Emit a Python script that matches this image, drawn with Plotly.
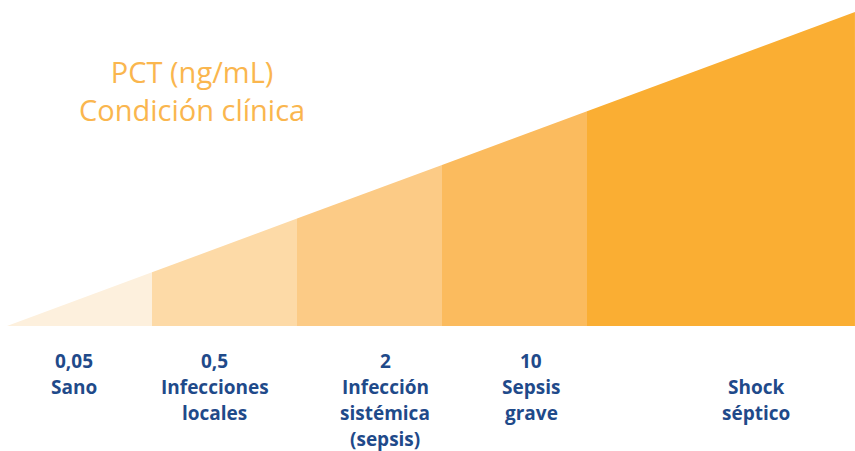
import plotly.graph_objects as go

# Data
pct_values = ["0,05", "0,5", "2", "10", ""]
conditions = [["Sano"], ["Infecciones", "locales"], ["Infección", "sistémica", "(sepsis)"],
              ["Sepsis", "grave"], ["Shock", "séptico"]]
segment_edges = [0, 1, 2, 3, 4, 5.848]          # x units of segment boundaries
segment_colors = ["#FDF0DD", "#FDDAA7", "#FCCB86", "#FBBB5E", "#FAAE33"]
label_x = [0.462, 1.434, 2.607, 3.614, 5.166]     # label centers in x units
title_lines = ["PCT (ng/mL)", "Condición clínica"]

X_MAX = segment_edges[-1]
def height(x):
    return x / X_MAX  # wedge height (1 at right edge)

PX_PER_Y = 314.0
def y_from_px(py):
    return (326 - py) / PX_PER_Y

fig = go.Figure()
for i in range(len(segment_colors)):
    x0, x1 = segment_edges[i], segment_edges[i + 1]
    fig.add_trace(go.Scatter(
        x=[x0, x1, x1, x0, x0],
        y=[0, 0, height(x1), height(x0), 0],
        fill="toself", fillcolor=segment_colors[i],
        line=dict(width=0), mode="lines", hoverinfo="skip", showlegend=False))

label_color = "#1F4A8A"
line_px = [361, 387, 413, 439]
for i in range(len(conditions)):
    lines = ([pct_values[i]] if pct_values[i] else []) + conditions[i]
    start = 0 if pct_values[i] else 1
    for j, txt in enumerate(lines):
        fig.add_annotation(x=label_x[i], y=y_from_px(line_px[start + j]),
                           xref="x", yref="y", text="<b>" + txt + "</b>",
                           showarrow=False, xanchor="center", yanchor="middle",
                           font=dict(family="Open Sans", size=19, color=label_color))

title_x = (192 - 7) / 145.0
fig.add_annotation(x=title_x, y=y_from_px(90), xref="x", yref="y",
                   text="<br>".join(title_lines), showarrow=False,
                   xanchor="center", yanchor="middle", align="center",
                   font=dict(family="Open Sans", size=29, color="#FAB64E"))

fig.update_layout(
    width=855, height=451, margin=dict(l=0, r=0, t=0, b=0),
    paper_bgcolor="white", plot_bgcolor="white",
    xaxis=dict(range=[-7 / 145.0, 848 / 145.0], visible=False, fixedrange=True),
    yaxis=dict(range=[y_from_px(451), y_from_px(0)], visible=False, fixedrange=True),
)
fig.write_html("out.html", config={"displayModeBar": False})
